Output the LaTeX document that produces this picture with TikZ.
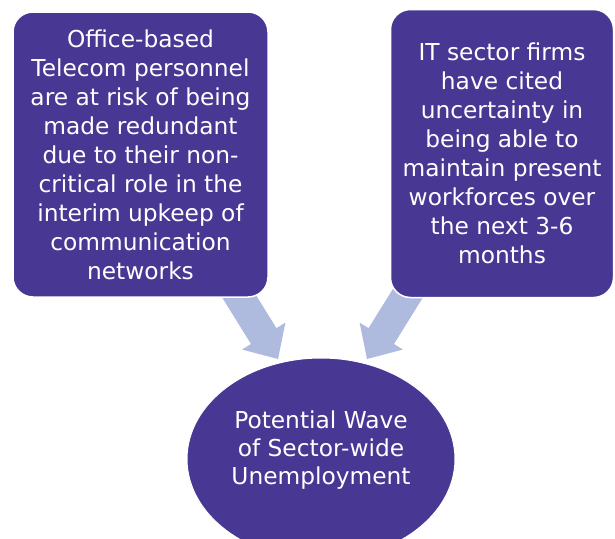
\documentclass[tikz,border=0pt]{standalone}
\usepackage{fontspec}
\setmainfont{DejaVu Sans}
\usetikzlibrary{calc,shapes.geometric}
\definecolor{boxpurple}{RGB}{72,56,148}
\definecolor{arrowblue}{RGB}{174,187,222}
\tikzset{
  box/.style={rectangle, rounded corners=20pt, fill=boxpurple, draw=white, line width=1.5pt,
    text=white, align=center, inner sep=0pt,
    font=\fontsize{23.3}{29}\selectfont},
  oval/.style={ellipse, fill=boxpurple, draw=white, line width=1pt, text=white, align=center,
    inner sep=0pt, font=\fontsize{23.3}{28}\selectfont},
  blockarrow/.style={fill=arrowblue, draw=none}
}
\begin{document}
\begin{tikzpicture}[x=1pt,y=-1pt]
\useasboundingbox (0,0) rectangle (615,538);
\clip (0,0) rectangle (615,538);
% arrow anchors
\coordinate (ls) at (232,285);
\coordinate (lt) at (278,359);
\coordinate (rs) at (413,285);
\coordinate (rt) at (367,359);
\coordinate (lh) at ($(lt)!27pt!(ls)$);
\coordinate (rh) at ($(rt)!27pt!(rs)$);
\fill[blockarrow] ($(ls)!15pt!90:(lt)$) -- ($(lh)!15pt!90:(lt)$) -- ($(lh)!25.5pt!90:(lt)$) -- (lt)
  -- ($(lh)!25.5pt!-90:(lt)$) -- ($(lh)!15pt!-90:(lt)$) -- ($(ls)!15pt!-90:(lt)$) -- cycle;
\fill[blockarrow] ($(rs)!15pt!90:(rt)$) -- ($(rh)!15pt!90:(rt)$) -- ($(rh)!25.5pt!90:(rt)$) -- (rt)
  -- ($(rh)!25.5pt!-90:(rt)$) -- ($(rh)!15pt!-90:(rt)$) -- ($(rs)!15pt!-90:(rt)$) -- cycle;
% boxes
\node[box, minimum width=255pt, minimum height=285pt] (left) at (140.5,154.5)
  {Office-based\\Telecom personnel\\are at risk of being\\made redundant\\due to their non-\\critical role in the\\interim upkeep of\\communication\\networks};
\node[box, minimum width=223pt, minimum height=288pt] (right) at (502,153.5)
  {IT sector firms\\have cited\\uncertainty in\\being able to\\maintain present\\workforces over\\the next 3-6\\months};
\node[oval, minimum width=268pt, minimum height=202pt] (goal) at (321,459) {};
\node[text=white, align=center, font=\fontsize{23.3}{28}\selectfont] (goaltext) at (321,450)
  {Potential Wave\\of Sector-wide\\Unemployment};
\end{tikzpicture}
\end{document}
